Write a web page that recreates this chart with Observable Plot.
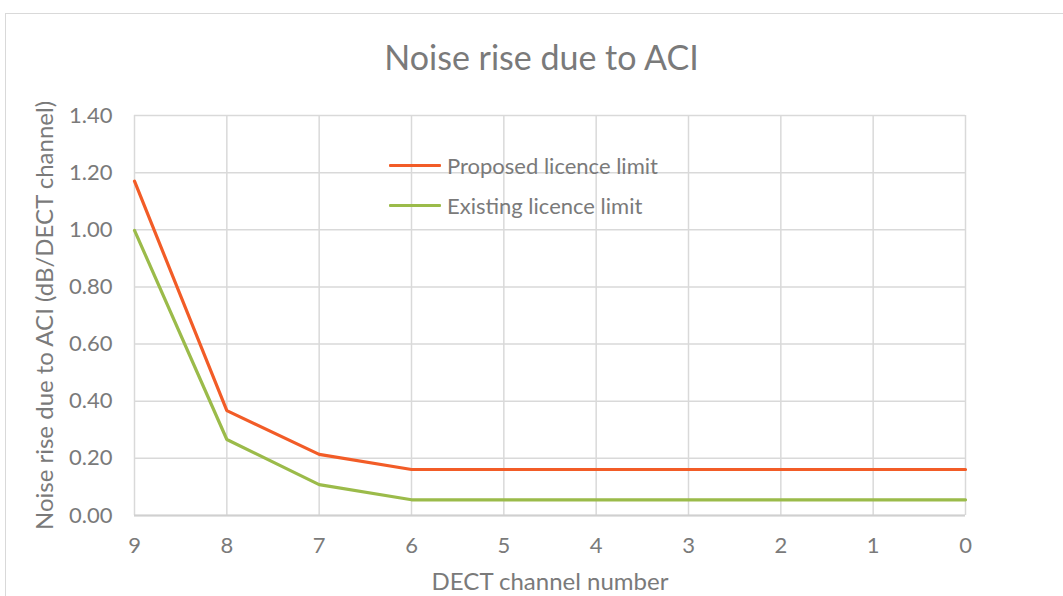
<!DOCTYPE html>
<html><head><meta charset="utf-8">
<script src="https://cdn.jsdelivr.net/npm/d3@7"></script>
<script src="https://cdn.jsdelivr.net/npm/@observablehq/plot@0.6"></script>
<style>
html,body{margin:0;padding:0;background:#fff;}
body{width:1063px;height:596px;overflow:hidden;position:relative;font-family:Lato,"Open Sans",sans-serif;color:#7a7a7a;}
#frame{position:absolute;left:5px;top:13px;width:1200px;height:800px;border:1px solid #d9d9d9;box-sizing:border-box;}
#title{position:absolute;left:0;top:36px;width:1083px;text-align:center;font-size:34px;color:#7a7a7a;}
#chart{position:absolute;left:0;top:60px;}
.leg{position:absolute;left:389px;height:30px;display:flex;align-items:center;font-size:22px;color:#7a7a7a;}
.leg span.sw{display:inline-block;width:52px;height:3px;margin-right:6px;border-radius:1px;}
#chart g[aria-label="x-axis label"] text{font-size:24px;}
#chart g[aria-label="y-axis label"] text{font-size:24px;}
</style>
</head><body>
<div id="frame"></div>
<div id="title">Noise rise due to ACI</div>
<div id="chart"></div>
<div id="legend"></div>
<script>
const channels = [9, 8, 7, 6, 5, 4, 3, 2, 1, 0];
const proposed = [1.17, 0.367, 0.214, 0.161, 0.161, 0.161, 0.161, 0.161, 0.161, 0.161];
const existing = [0.998, 0.266, 0.108, 0.055, 0.055, 0.055, 0.055, 0.055, 0.055, 0.055];
const seriesNames = ["Proposed licence limit", "Existing licence limit"];
const seriesColors = ["#f25c27", "#9bbb4a"];
const yTicks = [0, 0.2, 0.4, 0.6, 0.8, 1.0, 1.2, 1.4];

const rows = [];
channels.forEach((c, i) => {
  rows.push({ch: c, v: proposed[i], s: seriesNames[0]});
  rows.push({ch: c, v: existing[i], s: seriesNames[1]});
});

const chart = Plot.plot({
  width: 1063,
  height: 536,
  marginTop: 55,
  marginBottom: 81,
  marginLeft: 134,
  marginRight: 98,
  style: {fontFamily: "Lato, 'Open Sans', sans-serif", fontSize: "22px", color: "#7a7a7a", background: "transparent"},
  x: {domain: [9, 0], ticks: channels},
  y: {domain: [0, 1.4], ticks: yTicks},
  color: {domain: seriesNames, range: seriesColors},
  marks: [
    Plot.gridX(channels, {stroke: "#d9d9d9", strokeOpacity: 1, strokeWidth: 1.5}),
    Plot.gridY(yTicks, {stroke: "#d9d9d9", strokeOpacity: 1, strokeWidth: 1.5}),
    Plot.ruleY([0], {stroke: "#d0d0d0", strokeWidth: 2}),
    Plot.axisX({ticks: channels, tickSize: 0, tickPadding: 22, tickFormat: d => String(d),
      label: "DECT channel number", labelAnchor: "center", labelArrow: "none", labelOffset: 74}),
    Plot.axisY({ticks: yTicks, tickSize: 0, tickPadding: 22, tickFormat: d3.format(".2f"),
      label: "Noise rise due to ACI (dB/DECT channel)", labelAnchor: "center", labelArrow: "none", labelOffset: 99}),
    Plot.line(rows, {x: "ch", y: "v", z: "s", stroke: "s", strokeWidth: 3.2, strokeLinejoin: "miter"})
  ]
});
document.getElementById("chart").appendChild(chart);

const leg = document.getElementById("legend");
const legTops = [150, 190];
seriesNames.forEach((n, i) => {
  const d = document.createElement("div");
  d.className = "leg";
  d.style.top = legTops[i] + "px";
  d.innerHTML = `<span class="sw" style="background:${seriesColors[i]}"></span><span>${n}</span>`;
  leg.appendChild(d);
});
</script>
</body></html>
